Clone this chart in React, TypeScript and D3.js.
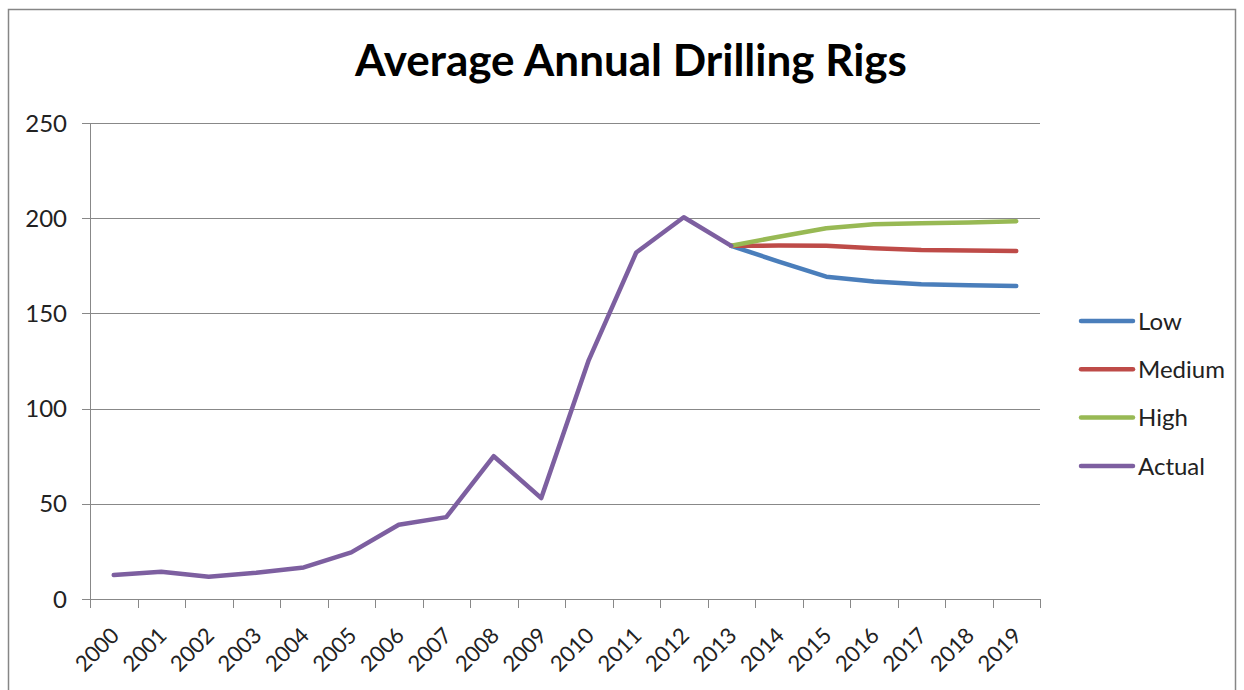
import React, { useRef, useEffect } from "react";
import * as d3 from "d3";

const years = [
  "2000", "2001", "2002", "2003", "2004", "2005", "2006", "2007", "2008", "2009",
  "2010", "2011", "2012", "2013", "2014", "2015", "2016", "2017", "2018", "2019",
];
const actualYears = years.slice(0, 14);
const actualValues = [12.6, 14.3, 11.7, 13.8, 16.6, 24.5, 39, 43, 75, 53, 125.5, 182, 200.5, 185.5];
const forecastYears = years.slice(13);
const lowValues = [185.5, 177.2, 169.3, 166.7, 165.3, 164.8, 164.4];
const mediumValues = [185.5, 185.6, 185.5, 184.2, 183.3, 183.1, 182.8];
const highValues = [185.5, 190.3, 194.7, 196.8, 197.3, 197.8, 198.4];
const yTicks = [0, 50, 100, 150, 200, 250];

const FONT = "Lato, 'Open Sans', sans-serif";

const series = [
  { name: "Low", color: "#4a7ebb", xs: forecastYears, values: lowValues },
  { name: "Medium", color: "#be4b48", xs: forecastYears, values: mediumValues },
  { name: "High", color: "#98b954", xs: forecastYears, values: highValues },
  { name: "Actual", color: "#7d5fa0", xs: actualYears, values: actualValues },
];

const App = () => {
  const ref = useRef<SVGSVGElement | null>(null);

  useEffect(() => {
    if (!ref.current) return;
    const svg = d3.select(ref.current);
    svg.selectAll("*").remove();

    const left = 90;
    const right = 1040;
    const top = 123;
    const bottom = 599;

    // chart border
    svg
      .append("rect")
      .attr("x", 8.5)
      .attr("y", 9.5)
      .attr("width", 1227)
      .attr("height", 700)
      .attr("fill", "white")
      .attr("stroke", "#868686")
      .attr("stroke-width", 1.5);

    svg
      .append("text")
      .attr("x", 631)
      .attr("y", 76)
      .attr("text-anchor", "middle")
      .style("font-family", FONT)
      .style("font-weight", "bold")
      .style("font-size", "44px")
      .text("Average Annual Drilling Rigs");

    const x = d3.scaleBand().domain(years).range([left, right]);
    const y = d3.scaleLinear().domain([0, 250]).range([bottom, top]);
    const cx = (d: string) => (x(d) || 0) + x.bandwidth() / 2;

    // grid lines
    svg
      .append("g")
      .selectAll("line")
      .data(yTicks.slice(1))
      .enter()
      .append("line")
      .attr("x1", left - 8)
      .attr("x2", right)
      .attr("y1", (d) => Math.round(y(d)) + 0.5)
      .attr("y2", (d) => Math.round(y(d)) + 0.5)
      .attr("stroke", "#888")
      .attr("stroke-width", 1);

    // y axis
    svg
      .append("line")
      .attr("x1", left + 0.5)
      .attr("x2", left + 0.5)
      .attr("y1", top)
      .attr("y2", bottom)
      .attr("stroke", "#888");
    svg
      .append("g")
      .selectAll("text")
      .data(yTicks)
      .enter()
      .append("text")
      .attr("x", 67)
      .attr("y", (d) => y(d))
      .attr("dy", "0.36em")
      .attr("text-anchor", "end")
      .style("font-family", FONT)
      .style("font-size", "24px")
      .style("fill", "#222")
      .text((d) => d);

    // x axis
    svg
      .append("line")
      .attr("x1", left - 8)
      .attr("x2", right)
      .attr("y1", bottom + 0.5)
      .attr("y2", bottom + 0.5)
      .attr("stroke", "#888");
    const tickXs = years.map((d) => x(d) || 0).concat([right]);
    svg
      .append("g")
      .selectAll("line")
      .data(tickXs)
      .enter()
      .append("line")
      .attr("x1", (d) => Math.round(d) + 0.5)
      .attr("x2", (d) => Math.round(d) + 0.5)
      .attr("y1", bottom)
      .attr("y2", bottom + 9)
      .attr("stroke", "#888");
    svg
      .append("g")
      .selectAll("text")
      .data(years)
      .enter()
      .append("text")
      .attr("transform", (d) => `translate(${cx(d) - 4},${bottom + 27}) rotate(-45)`)
      .attr("text-anchor", "end")
      .attr("dy", "0.7em")
      .style("font-family", FONT)
      .style("font-size", "22px")
      .style("fill", "#222")
      .text((d) => d);

    // lines
    series.forEach((s) => {
      const line = d3
        .line<number>()
        .x((_, i) => cx(s.xs[i]))
        .y((d) => y(d));
      svg
        .append("path")
        .datum(s.values)
        .attr("fill", "none")
        .attr("stroke", s.color)
        .attr("stroke-width", 4.5)
        .attr("stroke-linejoin", "round")
        .attr("stroke-linecap", "round")
        .attr("d", line);
    });

    // legend
    const legend = svg
      .append("g")
      .selectAll("g")
      .data(series)
      .enter()
      .append("g")
      .attr("transform", (_, i) => `translate(1081,${321 + i * 48.3})`);
    legend
      .append("line")
      .attr("x1", 0)
      .attr("x2", 52)
      .attr("stroke", (d) => d.color)
      .attr("stroke-width", 4.5)
      .attr("stroke-linecap", "round");
    legend
      .append("text")
      .attr("x", 57)
      .attr("dy", "0.36em")
      .style("font-family", FONT)
      .style("font-size", "24px")
      .style("fill", "#222")
      .text((d) => d.name);
  }, []);

  return (
    <svg
      ref={ref}
      width={1244}
      height={690}
      style={{ position: "absolute", left: 0, top: 0 }}
    />
  );
};

export default App;
